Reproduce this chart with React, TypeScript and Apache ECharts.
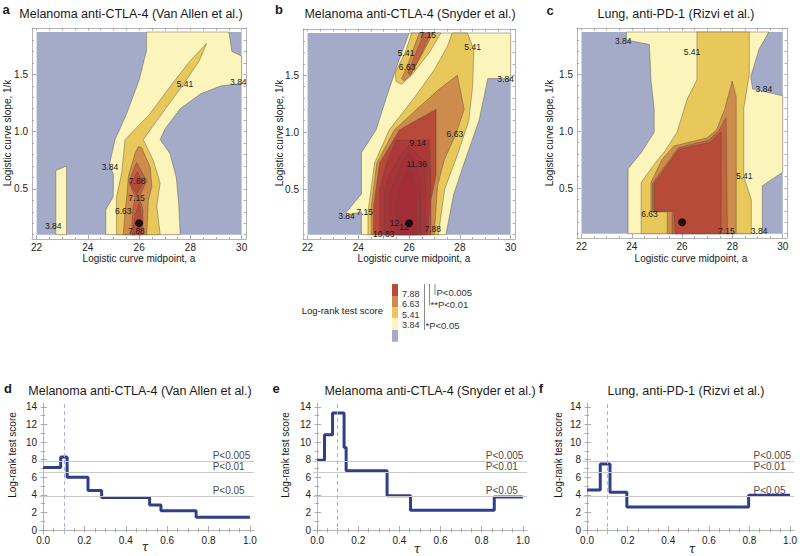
import React, { useEffect, useRef } from "react";
import * as echarts from "echarts";

// ---------------- contour colours ----------------
const belowColor = "#a3abc9";
const levelColors: Record<string, string> = {
  "3.84": "#fbf5bc",
  "5.41": "#e8c85b",
  "6.63": "#cd8c4b",
  "7.15": "#c4633f",
  "7.88": "#b84a3a",
  "9.14": "#ac383a",
  "10.83": "#a83339",
  "11.36": "#a53038",
  "12": "#a22d37",
};

const dataRegion = [[22, 0.1], [30, 0.1], [30, 1.87], [22, 1.87]];

// ---------------- panel a (Van Allen) contour regions ----------------
const aL384strip = [[22.75, 0.1], [22.75, 0.66], [23.17, 0.7], [23.17, 0.1]];
const aL384main = [[24.7, 0.1], [24.7, 0.32], [24.99, 0.43], [25.0, 0.62], [24.85, 0.72], [25.06, 0.93], [25.5, 1.15], [26.0, 1.45], [26.29, 1.71], [26.29, 1.87], [29.5, 1.87], [29.62, 1.7], [30, 1.66], [30, 1.42], [29.2, 1.4], [28.4, 1.33], [27.6, 1.2], [27.0, 1.02], [26.82, 0.93], [27.2, 0.81], [27.45, 0.6], [27.55, 0.35], [27.6, 0.1]];
const aL541 = [[25.12, 0.1], [25.12, 0.43], [25.32, 0.64], [25.45, 0.93], [26.4, 1.15], [27.3, 1.42], [28.0, 1.62], [28.63, 1.77], [28.35, 1.62], [27.75, 1.42], [26.8, 1.13], [26.16, 0.93], [26.55, 0.75], [26.82, 0.55], [26.69, 0.35], [26.82, 0.1]];
const aL663 = [[25.38, 0.1], [25.45, 0.3], [25.52, 0.43], [25.58, 0.61], [25.84, 0.81], [25.97, 0.87], [26.1, 0.86], [26.43, 0.69], [26.5, 0.52], [26.36, 0.4], [26.3, 0.1]];
const aL715 = [[25.7, 0.1], [25.75, 0.32], [25.85, 0.42], [25.6, 0.56], [25.9, 0.73], [26.3, 0.57], [26.0, 0.43], [26.15, 0.32], [26.15, 0.1]];
const aL788top = [[25.93, 0.65], [25.67, 0.535], [25.9, 0.45], [26.16, 0.55]];
const aL788low = [[25.74, 0.1], [25.85, 0.28], [26.0, 0.376], [26.08, 0.28], [26.07, 0.1]];
const aLabels: [number, number, string][] = [
  [22.65, 0.173, "3.84"], [24.86, 0.695, "3.84"], [27.79, 1.42, "5.41"], [29.87, 1.435, "3.84"],
  [25.92, 0.565, "7.88"], [25.9, 0.42, "7.15"], [25.38, 0.31, "6.63"], [25.9, 0.13, "7.88"],
];

// ---------------- panel b (Snyder) contour regions ----------------
const bL384 = [[24.12, 0.1], [24.12, 0.3], [23.4, 0.263], [24.12, 0.457], [24.12, 0.82], [24.7, 1.02], [25.1, 1.3], [25.55, 1.6], [26.0, 1.87], [30, 1.87], [30, 1.47], [29.1, 1.47], [28.75, 1.1], [28.2, 0.75], [27.75, 0.45], [27.45, 0.1]];
const bL541main = [[24.38, 0.1], [24.38, 0.3], [24.64, 0.73], [25.22, 1.02], [26.2, 1.3], [27.0, 1.55], [27.5, 1.75], [27.7, 1.87], [28.3, 1.87], [28.55, 1.72], [28.5, 1.4], [28.35, 1.1], [27.9, 0.8], [27.4, 0.5], [27.15, 0.1]];
const bL541arm = [[25.49, 1.445], [25.45, 1.52], [25.85, 1.7], [26.1, 1.87], [27.25, 1.87], [26.8, 1.7], [26.1, 1.5], [25.7, 1.42]];
const bL663main = [[24.51, 0.1], [24.51, 0.35], [24.73, 0.73], [25.42, 1.02], [26.3, 1.2], [27.2, 1.38], [27.9, 1.5], [28.17, 1.2], [27.84, 0.98], [27.39, 0.76], [27.12, 0.53], [26.99, 0.1]];
const bL663arm = [[25.7, 1.47], [25.92, 1.576], [26.15, 1.72], [26.4, 1.87], [26.95, 1.87], [26.5, 1.68], [26.05, 1.5], [25.8, 1.45]];
const bL715arm = [[25.95, 1.52], [26.2, 1.66], [26.6, 1.87], [26.85, 1.87], [26.4, 1.65], [26.05, 1.5]];
const bL788main = [[24.6, 0.1], [24.6, 0.35], [24.84, 0.73], [25.62, 1.02], [27.06, 1.2], [27.06, 0.62], [26.86, 0.4], [26.86, 0.1]];
const bL914 = [[24.84, 0.1], [24.84, 0.5], [25.1, 0.72], [25.49, 0.93], [26.8, 0.93], [26.86, 0.53], [26.73, 0.1]];
const bL1083 = [[25.03, 0.1], [25.03, 0.48], [25.3, 0.66], [25.95, 0.88], [26.6, 0.75], [26.65, 0.4], [26.6, 0.1]];
const bL1136 = [[25.24, 0.1], [25.24, 0.45], [25.5, 0.62], [25.95, 0.82], [26.3, 0.72], [26.45, 0.55], [26.45, 0.1]];
const bL12 = [[25.49, 0.1], [25.49, 0.4], [25.7, 0.55], [26.0, 0.68], [26.25, 0.55], [26.3, 0.1]];
const bLabels: [number, number, string][] = [
  [26.73, 1.85, "7.15"], [25.88, 1.696, "5.41"], [25.92, 1.574, "6.63"], [28.5, 1.75, "5.41"],
  [29.8, 1.47, "3.84"], [27.8, 0.98, "6.63"], [26.34, 0.907, "9.14"], [26.3, 0.72, "11.36"],
  [23.53, 0.268, "3.84"], [24.25, 0.3, "7.15"], [25.0, 0.11, "10.83"], [25.42, 0.2, "12"],
  [25.8, 0.17, "12"], [26.93, 0.152, "7.88"],
];

// ---------------- panel c (Rizvi) contour regions ----------------
const cL384 = [[23.85, 0.1], [23.85, 0.67], [24.37, 0.81], [24.89, 0.99], [24.89, 1.19], [24.76, 1.45], [24.7, 1.76], [23.78, 1.8], [23.78, 1.87], [29.45, 1.87], [29.06, 1.72], [28.73, 1.48], [28.8, 1.37], [30, 1.31], [30, 0.64], [29.19, 0.52], [29.19, 0.1]];
const cL541 = [[24.37, 0.1], [24.37, 0.55], [25.0, 0.74], [25.3, 0.82], [25.8, 0.99], [26.2, 1.28], [26.59, 1.45], [26.59, 1.87], [28.67, 1.87], [28.67, 1.5], [28.45, 1.2], [28.45, 0.6], [28.75, 0.4], [28.75, 0.1]];
const cL663 = [[25.41, 0.1], [25.41, 0.29], [24.76, 0.29], [24.76, 0.55], [25.2, 0.75], [25.67, 0.87], [26.98, 0.94], [27.37, 1.01], [27.7, 1.2], [27.99, 1.44], [28.15, 1.3], [28.15, 0.1]];
const cL715 = [[25.6, 0.1], [25.6, 0.295], [24.83, 0.295], [24.83, 0.545], [25.85, 0.855], [27.05, 0.92], [27.45, 1.0], [27.75, 1.12], [27.8, 0.1]];
const cL788 = [[25.74, 0.1], [25.67, 0.3], [24.89, 0.3], [24.89, 0.537], [25.87, 0.84], [27.1, 0.9], [27.55, 0.99], [27.55, 0.1]];
const cLabels: [number, number, string][] = [
  [23.66, 1.79, "3.84"], [26.39, 1.69, "5.41"], [29.25, 1.37, "3.84"], [28.47, 0.61, "5.41"],
  [24.7, 0.275, "6.63"], [27.76, 0.12, "7.15"], [29.06, 0.12, "3.84"],
];

// best parameter point
const bestPoint = [[26.0, 0.2]];

// ---------------- bottom panels: step data ----------------
const tauD = [0, 0.085, 0.116, 0.217, 0.283, 0.515, 0.57, 0.74, 1.0];
const scoreD = [7.1, 8.3, 6.0, 4.5, 3.7, 2.85, 2.2, 1.45, 1.45];
const tauE = [0, 0.036, 0.075, 0.131, 0.141, 0.34, 0.454, 0.861, 1.0];
const scoreE = [7.95, 10.85, 13.3, 9.4, 6.75, 3.9, 2.25, 3.76, 3.76];
const tauF = [0, 0.065, 0.113, 0.196, 0.796, 1.0];
const scoreF = [4.55, 7.5, 4.3, 2.63, 3.95, 3.95];
const thresholds = [7.88, 6.63, 3.84];
const thresholdLabels = ["P<0.005", "P<0.01", "P<0.05"];
const chosenTau = 0.095;

const titles = [
  "Melanoma anti-CTLA-4 (Van Allen et al.)",
  "Melanoma anti-CTLA-4 (Snyder et al.)",
  "Lung, anti-PD-1 (Rizvi et al.)",
];

const FONT = "'Liberation Sans', Arial, Helvetica, sans-serif";

type Poly = { pts: number[][]; fill: string; stroke: string };

function poly(pts: number[][], level: string): Poly {
  return { pts, fill: levelColors[level], stroke: "rgba(90,75,60,0.55)" };
}

const gridsTop = [
  { left: 32, top: 28, width: 214, height: 211 },
  { left: 303, top: 29, width: 212, height: 210 },
  { left: 577, top: 28, width: 210, height: 210 },
];
const gridsBottom = [
  { left: 39, top: 403, width: 215, height: 131 },
  { left: 313, top: 403, width: 214, height: 131 },
  { left: 583, top: 403, width: 214, height: 131 },
];

function range(a: number, b: number, s: number) {
  const out: number[] = [];
  for (let v = a; v <= b + 1e-9; v += s) out.push(Math.round(v * 1000) / 1000);
  return out;
}

function axesFor(gi: number, xr: number[], yr: number[], xMaj: number[], xMin: number[], yMaj: number[], yMin: number[], xFmt: (v: number) => string, yFmt: (v: number) => string, xMargin: number, yMargin: number) {
  const line = { show: true, lineStyle: { color: "#b4b4b4", width: 1 } };
  const tickStyle = { color: "#9a9a9a", width: 0.8 };
  const lab = { fontSize: 10, color: "#222", fontFamily: FONT };
  const xAxes = [
    { gridIndex: gi, type: "value", min: xr[0], max: xr[1], position: "bottom", axisLine: line, splitLine: { show: false },
      axisTick: { show: true, inside: true, length: 4, customValues: xMaj, lineStyle: tickStyle },
      axisLabel: { ...lab, margin: xMargin, customValues: xMaj, formatter: xFmt } },
    { gridIndex: gi, type: "value", min: xr[0], max: xr[1], position: "bottom", axisLine: { show: false }, splitLine: { show: false },
      axisTick: { show: true, inside: true, length: 2, customValues: xMin, lineStyle: tickStyle }, axisLabel: { show: false } },
    { gridIndex: gi, type: "value", min: xr[0], max: xr[1], position: "top", axisLine: line, splitLine: { show: false },
      axisTick: { show: true, inside: true, length: 2.5, customValues: xMaj.concat(xMin), lineStyle: tickStyle }, axisLabel: { show: false } },
  ];
  const yAxes = [
    { gridIndex: gi, type: "value", min: yr[0], max: yr[1], position: "left", axisLine: line, splitLine: { show: false },
      axisTick: { show: true, inside: true, length: 4, customValues: yMaj, lineStyle: tickStyle },
      axisLabel: { ...lab, margin: yMargin, customValues: yMaj, formatter: yFmt } },
    { gridIndex: gi, type: "value", min: yr[0], max: yr[1], position: "left", axisLine: { show: false }, splitLine: { show: false },
      axisTick: { show: true, inside: true, length: 2, customValues: yMin, lineStyle: tickStyle }, axisLabel: { show: false } },
    { gridIndex: gi, type: "value", min: yr[0], max: yr[1], position: "right", axisLine: line, splitLine: { show: false },
      axisTick: { show: true, inside: true, length: 2.5, customValues: yMaj.concat(yMin), lineStyle: tickStyle }, axisLabel: { show: false } },
  ];
  return { xAxes, yAxes };
}

function contourSeries(gi: number, polys: Poly[]) {
  return {
    type: "custom", xAxisIndex: gi * 3, yAxisIndex: gi * 3, clip: true, silent: true, z: 1,
    data: polys.map((p, i) => [p.pts[0][0], p.pts[0][1], i]),
    renderItem: (params: any, api: any) => {
      const p = polys[params.dataIndex];
      return {
        type: "polygon",
        shape: { points: p.pts.map((q) => api.coord(q)) },
        style: { fill: p.fill, stroke: p.stroke, lineWidth: p.stroke === "none" ? 0 : 0.8 },
      };
    },
  };
}

function textSeries(gi: number, labels: [number, number, string][], opts: any) {
  return {
    type: "custom", xAxisIndex: gi * 3, yAxisIndex: gi * 3, silent: true, z: 5,
    data: labels.map((l, i) => [l[0], l[1], i]),
    renderItem: (params: any, api: any) => {
      const l = labels[params.dataIndex];
      const pt = api.coord([l[0], l[1]]);
      return {
        type: "text", x: pt[0] + (opts.dx || 0), y: pt[1] + (opts.dy || 0),
        style: { text: l[2], fill: opts.color || "#222", fontSize: opts.fontSize || 8.5, fontFamily: FONT, align: opts.align || "center", verticalAlign: opts.verticalAlign || "middle" },
      };
    },
  };
}

function buildOption() {
  const grid: any[] = [];
  const xAxis: any[] = [];
  const yAxis: any[] = [];
  const series: any[] = [];

  const topXr = [21.82, 30.17];
  const topYr = [0.062, 1.905];
  const topXMaj = [22, 24, 26, 28, 30];
  const topXMin = range(22, 30, 0.5).filter((v) => v % 2 !== 0);
  const topYMaj = [0.5, 1.0, 1.5];
  const topYMin = range(0.1, 1.9, 0.1).filter((v) => Math.abs(v * 2 - Math.round(v * 2)) > 1e-6);

  const botXr = [-0.02, 1.02];
  const botYr = [-0.45, 14.45];
  const botXMaj = range(0, 1, 0.2);
  const botXMin = range(0, 1, 0.05).filter((v) => Math.abs(v * 5 - Math.round(v * 5)) > 1e-6);
  const botYMaj = range(0, 14, 2);
  const botYMin = range(1, 13, 2);

  const contours: Poly[][] = [
    [
      { pts: dataRegion, fill: belowColor, stroke: "none" },
      poly(aL384strip, "3.84"), poly(aL384main, "3.84"), poly(aL541, "5.41"), poly(aL663, "6.63"),
      poly(aL715, "7.15"), poly(aL788top, "7.88"), poly(aL788low, "7.88"),
    ],
    [
      { pts: dataRegion, fill: belowColor, stroke: "none" },
      poly(bL384, "3.84"), poly(bL541main, "5.41"), poly(bL541arm, "5.41"), poly(bL663main, "6.63"), poly(bL663arm, "6.63"),
      poly(bL715arm, "7.15"), poly(bL788main, "7.88"), poly(bL914, "9.14"), poly(bL1083, "10.83"), poly(bL1136, "11.36"), poly(bL12, "12"),
    ],
    [
      { pts: dataRegion, fill: belowColor, stroke: "none" },
      poly(cL384, "3.84"), poly(cL541, "5.41"), poly(cL663, "6.63"), poly(cL715, "7.15"), poly(cL788, "7.88"),
    ],
  ];
  const cLabelsAll = [aLabels, bLabels, cLabels];

  for (let i = 0; i < 3; i++) {
    const gi = i;
    grid.push({ ...gridsTop[i], containLabel: false });
    const ax = axesFor(gi, topXr, topYr, topXMaj, topXMin, topYMaj, topYMin, (v) => String(Math.round(v)), (v) => v.toFixed(1), 3, 4);
    xAxis.push(...ax.xAxes);
    yAxis.push(...ax.yAxes);
    series.push(contourSeries(gi, contours[i]));
    series.push(textSeries(gi, cLabelsAll[i], { fontSize: 8.5, color: "#1a1a1a" }));
    series.push({
      type: "scatter", xAxisIndex: gi * 3, yAxisIndex: gi * 3, data: bestPoint, symbolSize: 8, z: 6, silent: true,
      itemStyle: { color: "#000" },
    });
  }

  const steps = [
    [tauD, scoreD],
    [tauE, scoreE],
    [tauF, scoreF],
  ];
  for (let i = 0; i < 3; i++) {
    const gi = i + 3;
    grid.push({ ...gridsBottom[i], containLabel: false });
    const ax = axesFor(gi, botXr, botYr, botXMaj, botXMin, botYMaj, botYMin, (v) => v.toFixed(1), (v) => String(Math.round(v)), 1, 2);
    xAxis.push(...ax.xAxes);
    yAxis.push(...ax.yAxes);
    const [tau, score] = steps[i];
    series.push({
      type: "line", xAxisIndex: gi * 3, yAxisIndex: gi * 3, step: "end", symbol: "none", z: 4, silent: true,
      data: tau.map((t, k) => [t, score[k]]),
      lineStyle: { color: "#2f3f8c", width: 3 },
      markLine: {
        silent: true, symbol: ["none", "none"], label: { show: false }, animation: false,
        data: [
          ...thresholds.map((t) => ({ yAxis: t, lineStyle: { color: "#c9c9c9", width: 1, type: "solid" } })),
          { xAxis: chosenTau, lineStyle: { color: "#aab2d8", width: 1, type: [4, 3] } },
        ],
      },
    });
    series.push(textSeries(gi, thresholds.map((t, k) => [0.82, t, thresholdLabels[k]] as [number, number, string]), {
      fontSize: 10, color: "#4a4a4a", align: "left", verticalAlign: "bottom", dy: -0.5,
    }));
  }

  const txt = (x: number, y: number, text: string, extra: any = {}) => ({
    type: "text", x, y, silent: true,
    style: { text, fill: "#1a1a1a", fontSize: 12.5, fontFamily: FONT, align: "center", verticalAlign: "middle", ...extra },
  });
  const rtxt = (x: number, y: number, text: string, extra: any = {}) => ({
    type: "text", x, y, rotation: Math.PI / 2, silent: true,
    style: { text, fill: "#1a1a1a", fontSize: 10, fontFamily: FONT, align: "center", verticalAlign: "middle", ...extra },
  });

  const graphic: any[] = [
    txt(6, 9, "a", { fontWeight: "bold", fontSize: 13 }),
    txt(279, 9, "b", { fontWeight: "bold", fontSize: 13 }),
    txt(550, 10, "c", { fontWeight: "bold", fontSize: 13 }),
    txt(8, 388, "d", { fontWeight: "bold", fontSize: 13 }),
    txt(276, 388, "e", { fontWeight: "bold", fontSize: 13 }),
    txt(541, 388, "f", { fontWeight: "bold", fontSize: 13 }),
    txt(131, 14, titles[0]),
    txt(410, 14, titles[1]),
    txt(676, 14, titles[2]),
    txt(140, 391, titles[0]),
    txt(430, 391, titles[1]),
    txt(686, 391, titles[2]),
    txt(139, 258, "Logistic curve midpoint, a", { fontSize: 10 }),
    txt(414, 258, "Logistic curve midpoint, a", { fontSize: 10 }),
    txt(691, 258, "Logistic curve midpoint, a", { fontSize: 10 }),
    rtxt(7, 133, "Logistic curve slope, 1/k"),
    rtxt(279, 133, "Logistic curve slope, 1/k"),
    rtxt(549, 133, "Logistic curve slope, 1/k"),
    rtxt(12, 455, "Log-rank test score"),
    rtxt(285, 455, "Log-rank test score"),
    rtxt(558, 455, "Log-rank test score"),
    txt(145, 547, "\u03c4", { fontSize: 12, fontStyle: "italic", fontFamily: "'DejaVu Serif', serif" }),
    txt(417, 549, "\u03c4", { fontSize: 12, fontStyle: "italic", fontFamily: "'DejaVu Serif', serif" }),
    txt(692, 549, "\u03c4", { fontSize: 12, fontStyle: "italic", fontFamily: "'DejaVu Serif', serif" }),
    // legend
    txt(383, 310, "Log-rank test score", { fontSize: 9.5, align: "right" }),
    { type: "rect", shape: { x: 392, y: 284, width: 6, height: 12 }, style: { fill: levelColors["7.88"] }, silent: true },
    { type: "rect", shape: { x: 392, y: 296, width: 6, height: 11.3 }, style: { fill: levelColors["6.63"] }, silent: true },
    { type: "rect", shape: { x: 392, y: 307.3, width: 6, height: 11 }, style: { fill: levelColors["5.41"] }, silent: true },
    { type: "rect", shape: { x: 392, y: 318.3, width: 6, height: 11.7 }, style: { fill: levelColors["3.84"] }, silent: true },
    { type: "rect", shape: { x: 392, y: 330, width: 6, height: 11.7 }, style: { fill: belowColor }, silent: true },
    txt(402, 293.5, "7.88", { fontSize: 9, align: "left", fill: "#333" }),
    txt(402, 304.3, "6.63", { fontSize: 9, align: "left", fill: "#333" }),
    txt(402, 314.5, "5.41", { fontSize: 9, align: "left", fill: "#333" }),
    txt(402, 324.8, "3.84", { fontSize: 9, align: "left", fill: "#333" }),
    { type: "line", shape: { x1: 424.5, y1: 284, x2: 424.5, y2: 330 }, style: { stroke: "#8a8a8a", lineWidth: 1 }, silent: true },
    { type: "line", shape: { x1: 429.5, y1: 284, x2: 429.5, y2: 305.5 }, style: { stroke: "#8a8a8a", lineWidth: 1 }, silent: true },
    { type: "line", shape: { x1: 435, y1: 284, x2: 435, y2: 295 }, style: { stroke: "#8a8a8a", lineWidth: 1 }, silent: true },
    txt(436.5, 292.7, "P<0.005", { fontSize: 9.5, align: "left", fill: "#333" }),
    txt(430.5, 304, "**P<0.01", { fontSize: 9.5, align: "left", fill: "#333" }),
    txt(425.5, 325, "*P<0.05", { fontSize: 9.5, align: "left", fill: "#333" }),
  ];

  return { animation: false, backgroundColor: "#ffffff", grid, xAxis, yAxis, series, graphic };
}

export default function App() {
  const ref = useRef<HTMLDivElement>(null);
  useEffect(() => {
    if (!ref.current) return;
    const chart = echarts.init(ref.current, undefined, { renderer: "svg" });
    chart.setOption(buildOption() as any);
    return () => chart.dispose();
  }, []);
  return <div ref={ref} style={{ position: "absolute", left: 0, top: 0, width: 800, height: 556 }} />;
}
